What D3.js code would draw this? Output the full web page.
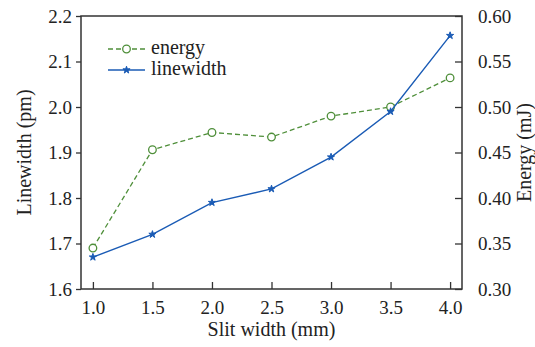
<!DOCTYPE html>
<html>
<head>
<meta charset="utf-8">
<script src="https://cdn.jsdelivr.net/npm/d3@7"></script>
<style>
  body { margin: 0; background: #fff; }
  text { font-family: "Liberation Serif", "DejaVu Serif", serif; fill: #222; }
</style>
</head>
<body>
<div id="chart"></div>
<script>
const slitWidth = [1.0, 1.5, 2.0, 2.5, 3.0, 3.5, 4.0];
const linewidth = [1.67, 1.72, 1.79, 1.82, 1.89, 1.99, 2.157];
const energy = [0.345, 0.453, 0.472, 0.467, 0.490, 0.500, 0.532];
const xTicks = [1.0, 1.5, 2.0, 2.5, 3.0, 3.5, 4.0];
const leftTicks = [1.6, 1.7, 1.8, 1.9, 2.0, 2.1, 2.2];
const rightTicks = [0.30, 0.35, 0.40, 0.45, 0.50, 0.55, 0.60];

const W = 535, H = 347;
const margin = { top: 16, right: 73, bottom: 58, left: 81 };
const width = W - margin.left - margin.right;
const height = H - margin.top - margin.bottom;

const green = '#4f8f3a', blue = '#1a5bb5';

const svg = d3.select('#chart').append('svg')
  .attr('width', W).attr('height', H);
const g = svg.append('g')
  .attr('transform', `translate(${margin.left},${margin.top})`);

const x = d3.scaleLinear().domain([0.9, 4.1]).range([0, width]);
const yL = d3.scaleLinear().domain([1.6, 2.2]).range([height, 0]);
const yR = d3.scaleLinear().domain([0.3, 0.6]).range([height, 0]);

// axes
const styleAxis = sel => {
  sel.select('.domain').remove();
  sel.selectAll('line').attr('stroke', '#333').attr('stroke-width', 1.3);
  sel.selectAll('text').style('font-size', '19px').attr('fill', '#222');
};

g.append('g')
  .call(d3.axisLeft(yL).tickValues(leftTicks).tickFormat(d3.format('.1f')).tickSize(5).tickPadding(4))
  .call(styleAxis);

g.append('g')
  .attr('transform', `translate(${width},0)`)
  .call(d3.axisRight(yR).tickValues(rightTicks).tickFormat(d3.format('.2f')).tickSize(-7).tickPadding(16))
  .call(styleAxis);

g.append('g')
  .attr('transform', `translate(0,${height})`)
  .call(d3.axisBottom(x).tickValues(xTicks).tickFormat(d3.format('.1f')).tickSize(-7).tickPadding(12))
  .call(styleAxis);

// frame
g.append('rect')
  .attr('width', width).attr('height', height)
  .attr('fill', 'none').attr('stroke', '#333').attr('stroke-width', 1.5);

const data = slitWidth.map((s, i) => ({ s, lw: linewidth[i], e: energy[i] }));

// energy line
g.append('path')
  .datum(data)
  .attr('fill', 'none')
  .attr('stroke', green)
  .attr('stroke-width', 1.3)
  .attr('stroke-dasharray', '5,3')
  .attr('d', d3.line().x(d => x(d.s)).y(d => yR(d.e)));

g.selectAll('.ecirc')
  .data(data)
  .enter().append('circle')
  .attr('cx', d => x(d.s)).attr('cy', d => yR(d.e))
  .attr('r', 3.8)
  .attr('fill', 'white').attr('stroke', green).attr('stroke-width', 1.3);

// linewidth line
g.append('path')
  .datum(data)
  .attr('fill', 'none')
  .attr('stroke', blue)
  .attr('stroke-width', 1.4)
  .attr('d', d3.line().x(d => x(d.s)).y(d => yL(d.lw)));

const star = d3.symbol().type(d3.symbolStar).size(16);
g.selectAll('.lstar')
  .data(data)
  .enter().append('path')
  .attr('transform', d => `translate(${x(d.s)},${yL(d.lw)})`)
  .attr('d', star)
  .attr('fill', blue).attr('stroke', blue).attr('stroke-width', 1);

// legend
const leg = svg.append('g').attr('transform', 'translate(108,49)');
leg.append('line').attr('x1', 0).attr('x2', 37).attr('y1', 0).attr('y2', 0)
  .attr('stroke', green).attr('stroke-width', 1.3).attr('stroke-dasharray', '5,3');
leg.append('circle').attr('cx', 18.5).attr('cy', 0).attr('r', 3.8)
  .attr('fill', 'white').attr('stroke', green).attr('stroke-width', 1.3);
leg.append('text').attr('x', 43).attr('y', 5).style('font-size', '20px').text('energy');

leg.append('line').attr('x1', 0).attr('x2', 37).attr('y1', 21).attr('y2', 21)
  .attr('stroke', blue).attr('stroke-width', 1.4);
leg.append('path').attr('transform', 'translate(18.5,21)').attr('d', star)
  .attr('fill', blue).attr('stroke', blue).attr('stroke-width', 1);
leg.append('text').attr('x', 43).attr('y', 26).style('font-size', '20px').text('linewidth');

// axis titles
svg.append('text')
  .attr('x', margin.left + width / 2).attr('y', 336)
  .attr('text-anchor', 'middle').style('font-size', '20px')
  .text('Slit width (mm)');

svg.append('text')
  .attr('transform', `translate(31,${margin.top + height / 2}) rotate(-90)`)
  .attr('text-anchor', 'middle').style('font-size', '20px')
  .text('Linewidth (pm)');

svg.append('text')
  .attr('transform', `translate(531,${margin.top + height / 2}) rotate(-90)`)
  .attr('text-anchor', 'middle').style('font-size', '20px')
  .text('Energy (mJ)');
</script>
</body>
</html>
